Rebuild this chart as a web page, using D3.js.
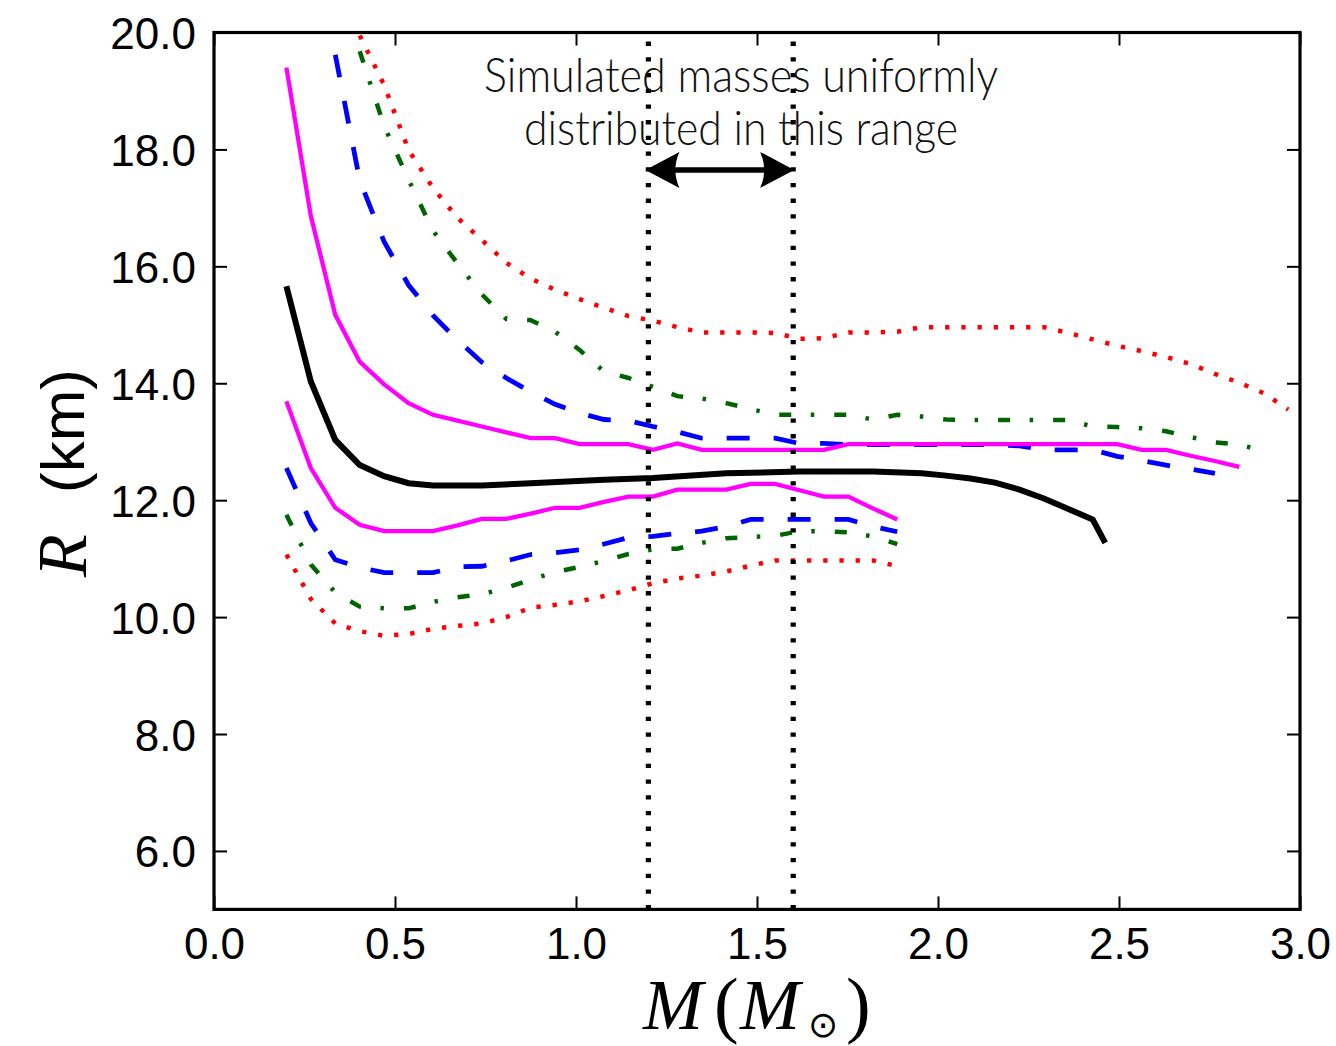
<!DOCTYPE html>
<html><head><meta charset="utf-8">
<script src="https://cdn.jsdelivr.net/npm/d3@7"></script>
<style>html,body{margin:0;padding:0;background:#fff;} svg{display:block;}</style>
</head><body>
<svg id="chart" width="1336" height="1046"></svg>
<script>
// ---------- data ----------
const massGrid = [0.2, 0.2675, 0.335, 0.4025, 0.47, 0.5375, 0.605, 0.6725, 0.74, 0.8075,
  0.875, 0.9425, 1.01, 1.0775, 1.145, 1.2125, 1.28, 1.3475, 1.415, 1.4825,
  1.55, 1.6175, 1.685, 1.7525, 1.82, 1.8875, 1.955, 2.0225, 2.09, 2.1575,
  2.225, 2.2925, 2.36, 2.4275, 2.495, 2.5625, 2.63, 2.6975, 2.765, 2.8325,
  2.9, 2.9675];

// magenta solid (inner band)
const rMagentaUpper = [19.40, 16.86, 15.17, 14.37, 13.98, 13.66, 13.46, 13.36, 13.26, 13.16,
  13.06, 13.06, 12.96, 12.96, 12.96, 12.86, 12.97, 12.86, 12.86, 12.86,
  12.86, 12.86, 12.86, 12.96, 12.96, 12.96, 12.96, 12.96, 12.96, 12.96,
  12.96, 12.96, 12.96, 12.96, 12.96, 12.86, 12.86, 12.76, 12.67, 12.57];
const rMagentaLower = [13.69, 12.55, 11.87, 11.58, 11.47, 11.47, 11.47, 11.57, 11.68, 11.68,
  11.77, 11.87, 11.87, 11.97, 12.06, 12.06, 12.18, 12.18, 12.18, 12.28,
  12.28, 12.17, 12.06, 12.06, 11.86, 11.67];

// blue dashed
const rBlueUpper = [null, null, 19.62, 17.47, 16.42, 15.68, 15.16, 14.74, 14.36, 14.09,
  13.85, 13.64, 13.49, 13.38, 13.36, 13.26, 13.17, 13.06, 13.06, 13.06,
  13.06, 12.97, 12.97, 12.95, 12.95, 12.95, 12.95, 12.95, 12.95, 12.95,
  12.93, 12.86, 12.86, 12.86, 12.75, 12.68, 12.60, 12.53, 12.46];
const rBlueLower = [12.55, 11.61, 10.98, 10.85, 10.76, 10.76, 10.76, 10.86, 10.87, 10.96,
  11.07, 11.10, 11.15, 11.25, 11.36, 11.38, 11.43, 11.47, 11.55, 11.67,
  11.67, 11.67, 11.67, 11.67, 11.55, 11.46];

// green dash-dot
const rGreenUpper = [null, null, null, 19.68, 18.40, 17.48, 16.61, 16.05, 15.52, 15.10,
  15.08, 14.88, 14.57, 14.20, 14.09, 13.94, 13.78, 13.74, 13.66, 13.56,
  13.46, 13.46, 13.46, 13.46, 13.38, 13.46, 13.43, 13.38, 13.37, 13.37,
  13.37, 13.37, 13.37, 13.26, 13.25, 13.23, 13.18, 13.08, 12.99, 12.95,
  12.84];
const rGreenLower = [11.75, 10.90, 10.42, 10.18, 10.15, 10.15, 10.26, 10.34, 10.39, 10.50,
  10.64, 10.77, 10.86, 10.96, 11.08, 11.16, 11.17, 11.27, 11.35, 11.37,
  11.39, 11.47, 11.47, 11.45, 11.38, 11.25];

// red dotted
const rRedUpper = [null, null, null, 19.95, 19.10, 17.99, 17.34, 16.83, 16.45, 16.06,
  15.79, 15.60, 15.44, 15.29, 15.15, 15.07, 14.96, 14.87, 14.87, 14.87,
  14.86, 14.76, 14.77, 14.87, 14.87, 14.88, 14.96, 14.96, 14.96, 14.96,
  14.96, 14.96, 14.86, 14.75, 14.64, 14.55, 14.45, 14.33, 14.16, 14.01,
  13.83, 13.55];
const rRedLower = [11.07, 10.31, 9.89, 9.76, 9.68, 9.71, 9.80, 9.85, 9.89, 10.00,
  10.16, 10.21, 10.27, 10.36, 10.46, 10.58, 10.66, 10.71, 10.78, 10.88,
  10.97, 10.97, 10.97, 10.97, 10.97, 10.87];

// black solid (true relation)
const massTrue = [0.2, 0.2675, 0.335, 0.4025, 0.47, 0.5375, 0.605, 0.74, 0.875, 1.0775,
  1.2125, 1.415, 1.6175, 1.82, 1.955, 2.0225, 2.09, 2.1575, 2.225, 2.2925,
  2.36, 2.4275, 2.462];
const radiusTrue = [15.66, 14.03, 13.03, 12.60, 12.41, 12.29, 12.25, 12.25, 12.29, 12.35,
  12.38, 12.46, 12.49, 12.49, 12.46, 12.42, 12.37, 12.30, 12.18, 12.03,
  11.85, 11.67, 11.27];

// simulated mass range and annotation
const massRange = [1.2, 1.6];
const arrowRadius = 17.65;
const noteLines = ["Simulated masses uniformly", "distributed in this range"];
const noteMass = 1.456;
const noteRadius = [18.98, 18.08];

// axes
const xTicks = [0.0, 0.5, 1.0, 1.5, 2.0, 2.5, 3.0];
const yTicks = [6, 8, 10, 12, 14, 16, 18, 20];
const xDomain = [0, 3];
const yDomain = [5, 20];

// ---------- drawing ----------
const svg = d3.select("#chart");
const L = 214, R = 1300, T = 32.5, B = 909.4;
const x = d3.scaleLinear().domain(xDomain).range([L, R]);
const y = d3.scaleLinear().domain(yDomain).range([B, T]);

const line = d3.line().defined(d => d[1] != null).x(d => x(d[0])).y(d => y(d[1]));
const pts = (ms, rs) => rs.map((r, i) => [ms[i], r]);

const styles = {
  red:     {color: "#ff0000", w: 4.5, dash: "4.3 11.9"},
  green:   {color: "#006400", w: 4.5, dash: "12 19.5 3.5 20"},
  blue:    {color: "#0000ff", w: 4.8, dash: "23 24"},
  magenta: {color: "#ff00ff", w: 4.3, dash: null},
  black:   {color: "#000000", w: 6.0, dash: null}
};
const series = [
  {d: pts(massGrid, rRedUpper), s: styles.red},
  {d: pts(massGrid, rRedLower), s: styles.red},
  {d: pts(massGrid, rGreenUpper), s: styles.green},
  {d: pts(massGrid, rGreenLower), s: styles.green},
  {d: pts(massGrid, rBlueUpper), s: styles.blue},
  {d: pts(massGrid, rBlueLower), s: styles.blue},
  {d: pts(massGrid, rMagentaUpper), s: styles.magenta},
  {d: pts(massGrid, rMagentaLower), s: styles.magenta},
  {d: pts(massTrue, radiusTrue), s: styles.black}
];

svg.append("g").selectAll("path").data(series).join("path")
  .attr("d", d => line(d.d))
  .attr("fill", "none")
  .attr("stroke", d => d.s.color)
  .attr("stroke-width", d => d.s.w)
  .attr("stroke-dasharray", d => d.s.dash)
  .attr("stroke-linejoin", "miter")
  .attr("stroke-linecap", "butt");

// vertical dotted lines
svg.append("g").selectAll("line").data(massRange).join("line")
  .attr("x1", d => x(d)).attr("x2", d => x(d))
  .attr("y1", y(yDomain[0])).attr("y2", y(yDomain[1]))
  .attr("stroke", "#000").attr("stroke-width", 5.2)
  .attr("stroke-dasharray", "4.3 11.4");

// double arrow
const ay = y(arrowRadius), ax1 = x(massRange[0]) - 3, ax2 = x(massRange[1]) + 1;
const hl = 34, hw = 18, notch = 26;
const ag = svg.append("g");
ag.append("line").attr("x1", ax1 + notch - 2).attr("x2", ax2 - notch + 2)
  .attr("y1", ay).attr("y2", ay).attr("stroke", "#000").attr("stroke-width", 5.5);
ag.append("path").attr("fill", "#000").attr("d",
  `M${ax1},${ay} L${ax1 + hl},${ay - hw} Q${ax1 + notch},${ay} ${ax1 + hl},${ay + hw} Z`);
ag.append("path").attr("fill", "#000").attr("d",
  `M${ax2},${ay} L${ax2 - hl},${ay - hw} Q${ax2 - notch},${ay} ${ax2 - hl},${ay + hw} Z`);

// annotation text
const noteWidths = [514, 434];
svg.append("g").selectAll("text").data(noteLines).join("text")
  .attr("x", x(noteMass)).attr("y", (d, i) => y(noteRadius[i]))
  .attr("text-anchor", "middle")
  .attr("font-family", "Lato, 'Open Sans', sans-serif")
  .attr("font-weight", 300)
  .attr("font-size", 47)
  .attr("fill", "#111")
  .attr("textLength", (d, i) => noteWidths[i])
  .attr("lengthAdjust", "spacingAndGlyphs")
  .text(d => d);

// axes
const fmt = d3.format(".1f");
const tickFont = "'Liberation Sans', Arial, Helvetica, sans-serif";
const gB = svg.append("g").attr("transform", `translate(0,${B})`)
  .call(d3.axisBottom(x).tickValues(xTicks).tickFormat(fmt).tickSize(-13).tickSizeOuter(0));
const gT = svg.append("g").attr("transform", `translate(0,${T})`)
  .call(d3.axisTop(x).tickValues(xTicks).tickFormat("").tickSize(-13).tickSizeOuter(0));
const gL = svg.append("g").attr("transform", `translate(${L},0)`)
  .call(d3.axisLeft(y).tickValues(yTicks).tickFormat(fmt).tickSize(-13).tickSizeOuter(0));
const gR = svg.append("g").attr("transform", `translate(${R},0)`)
  .call(d3.axisRight(y).tickValues(yTicks).tickFormat("").tickSize(-13).tickSizeOuter(0));
[gB, gT, gL, gR].forEach(g => {
  g.select(".domain").remove();
  g.selectAll(".tick line").attr("stroke", "#000").attr("stroke-width", 2);
  g.selectAll("text").attr("font-family", tickFont).attr("font-size", 44).attr("fill", "#000");
});
gB.selectAll(".tick text").attr("y", 50).attr("dy", 0);
gL.selectAll(".tick text").attr("x", -18).attr("y", 16).attr("dy", 0);

// frame
svg.append("rect").attr("x", L).attr("y", T).attr("width", R - L).attr("height", B - T)
  .attr("fill", "none").attr("stroke", "#000").attr("stroke-width", 3.2);

// y label: R (km)
const yl = svg.append("g").attr("transform", "translate(86,0)");
yl.append("text").attr("transform", "translate(0,577) rotate(-90)")
  .attr("font-family", "'Liberation Serif', 'Times New Roman', serif")
  .attr("font-style", "italic").attr("font-size", 70).text("R");
yl.append("text").attr("transform", "translate(-2,493) rotate(-90)")
  .attr("font-family", tickFont).attr("font-size", 62).text("(km)");

// x label: M(M_sun)
const xl = svg.append("g").attr("font-family", "'Liberation Serif', 'Times New Roman', serif");
xl.append("text").attr("x", 643).attr("y", 1029).attr("font-style", "italic").attr("font-size", 72).text("M");
xl.append("text").attr("x", 714).attr("y", 1029).attr("font-size", 74).text("(");
xl.append("text").attr("x", 740).attr("y", 1029).attr("font-style", "italic").attr("font-size", 72).text("M");
xl.append("text").attr("x", 808).attr("y", 1037).attr("font-family", "'DejaVu Sans', sans-serif").attr("font-size", 36).text("\u2299");
xl.append("text").attr("x", 846).attr("y", 1029).attr("font-size", 74).text(")");
</script>
</body></html>
